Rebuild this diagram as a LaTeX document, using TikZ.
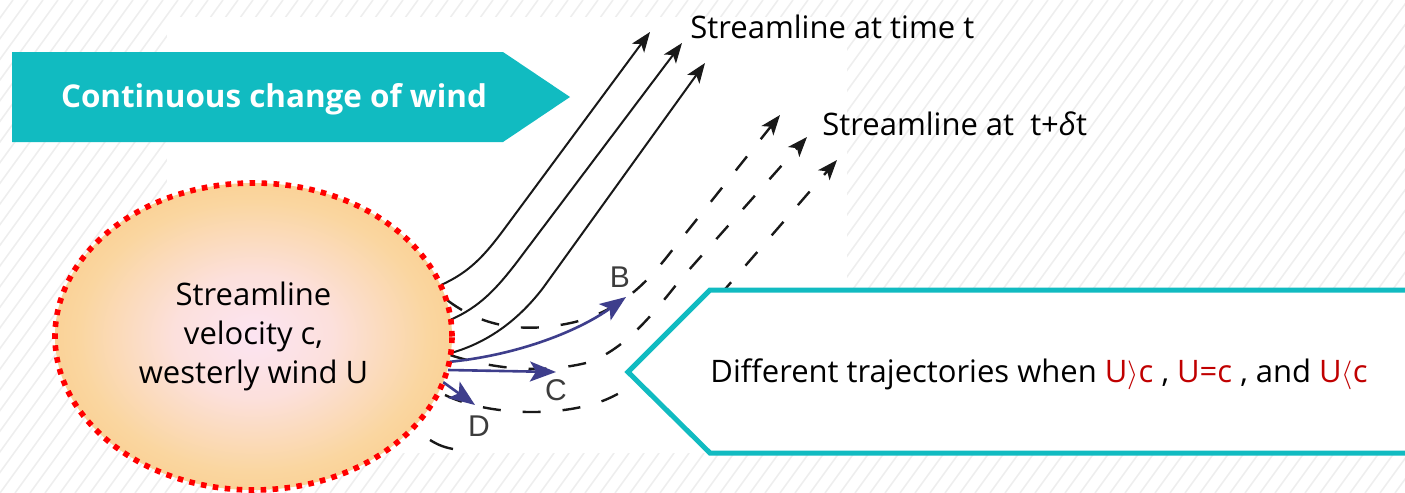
\documentclass[tikz,border=0pt]{standalone}
\usepackage{fontspec}
\setmainfont{Open Sans}
\newfontfamily\arialf{Liberation Sans}
\usetikzlibrary{arrows.meta,shapes.geometric}
\definecolor{tealc}{RGB}{17,187,193}
\definecolor{redtxt}{RGB}{192,0,0}
\definecolor{navyc}{RGB}{62,62,140}
\definecolor{hatchc}{RGB}{238,238,238}
\definecolor{ecenter}{RGB}{252,228,242}
\definecolor{ering1}{RGB}{252,224,220}
\definecolor{ering2}{RGB}{250,214,160}
\definecolor{ering3}{RGB}{248,196,120}
\definecolor{eedge}{RGB}{245,176,114}
\definecolor{lblgray}{RGB}{60,60,60}
\pgfdeclareradialshading{ellshade}{\pgfpoint{0bp}{0bp}}{color(0bp)=(ecenter);color(10bp)=(ering1);color(22bp)=(ering2);color(36bp)=(ering3);color(50bp)=(eedge)}
\tikzset{
  hatchline/.style={draw=hatchc, line width=0.8pt},
  solidline/.style={draw=black!90, line width=1pt, -{Stealth[length=10pt,width=7.5pt,inset=2.5pt]}},
  dashline/.style={draw=black!90, line width=1.2pt, dash pattern=on 9pt off 11pt, -{Stealth[length=10pt,width=7.5pt,inset=2.5pt]}},
  bluearrow/.style={draw=navyc, line width=1.3pt, -{Stealth[length=13pt,width=10pt,inset=3pt]}},
  lbl/.style={font=\arialf\fontsize{15}{17}\selectfont, text=lblgray, inner sep=0pt},
  maintxt/.style={font=\fontsize{15.5}{19.3}\selectfont, inner sep=0pt},
}
\begin{document}
\begin{tikzpicture}[x=0.5pt,y=-0.5pt]
\useasboundingbox (0,0) rectangle (1405,493);
% background hatching
\begin{scope}
\clip (0,0) rectangle (1405,493);
\foreach \i in {-375,-360,...,1410} \draw[hatchline] (\i,493) -- ++(358,-493);
\end{scope}
\fill[white] (167,17) rectangle (847,453);
% teal arrow box
\fill[tealc] (12,52) -- (503,52) -- (570,97) -- (503,142) -- (12,142) -- cycle;
\node[maintxt, font=\bfseries\fontsize{15.7}{19}\selectfont, text=white] (cw) at (274,99) {Continuous change of wind};
% solid streamlines
\coordinate (s1a) at (441,285); \coordinate (s1b) at (650,32);
\coordinate (s2a) at (450,320); \coordinate (s2b) at (682,43);
\coordinate (s3a) at (451,353); \coordinate (s3b) at (705,63);
\draw[solidline] (s1a) .. controls (470,272) and (485,255) .. (505,228) -- (s1b);
\draw[solidline] (s2a) .. controls (480,307) and (497,288) .. (517,262) -- (s2b);
\draw[solidline] (s3a) .. controls (490,342) and (520,318) .. (543,288) -- (s3b);
% dashed streamlines
\coordinate (d1a) at (447,300); \coordinate (d1b) at (780,115);
\coordinate (d2a) at (450,355); \coordinate (d2b) at (807,137);
\coordinate (d3a) at (445,395); \coordinate (d3b) at (837,160);
\coordinate (d4a) at (430,440); \coordinate (d4b) at (453,449);
\draw[dashline] (d1a) .. controls (480,325) and (520,335) .. (575,322) .. controls (620,310) and (645,285) .. (670,253) -- (d1b);
\draw[dashline] (d2a) .. controls (490,368) and (540,375) .. (590,362) .. controls (625,348) and (650,318) .. (680,280) -- (d2b);
\draw[dashline] (d3a) .. controls (480,412) and (540,418) .. (590,405) .. controls (640,392) and (680,345) .. (720,295) -- (d3b);
\draw[black!90, line width=1.2pt] (d4a) to[bend right=10] (d4b);
% blue trajectories
\coordinate (bo1) at (448,362); \coordinate (bB) at (626,297);
\coordinate (bo2) at (448,370); \coordinate (bC) at (556,372);
\coordinate (bo3) at (443,382); \coordinate (bD) at (475,405);
\draw[bluearrow] (bo1) .. controls (520,355) and (580,330) .. (bB);
\draw[bluearrow] (bo2) -- (bC);
\draw[bluearrow] (bo3) -- (bD);
\node[lbl] (lB) at (620,277) {B};
\node[lbl] (lC) at (556,390) {C};
\node[lbl] (lD) at (479,426) {D};
% ellipse
\node[ellipse, minimum width=198.5pt, minimum height=153.5pt, inner sep=0pt,
      shading=ellshade, draw=red, line width=2.8pt, dash pattern=on 2.8pt off 3.2pt,
      maintxt, align=center] (ell) at (253.5,336.5) {Streamline\\velocity c,\\westerly wind U};
% right box
\filldraw[draw=tealc, fill=white, line width=2.5pt, line join=miter] (1412,290) -- (710,290) -- (628,372) -- (710,453) -- (1412,453);
\node[maintxt, anchor=base west] (dt) at (710,382) {Different trajectories when \textcolor{redtxt}{U$\rangle$c} , \textcolor{redtxt}{U=c} , and \textcolor{redtxt}{U$\langle$c}};
% titles
\node[maintxt, anchor=base west] (st1) at (690,38) {Streamline at time t};
\node[maintxt, anchor=base west] (st2) at (822,135) {Streamline at\ \ t+{\itshape δ}t};
\end{tikzpicture}
\end{document}
